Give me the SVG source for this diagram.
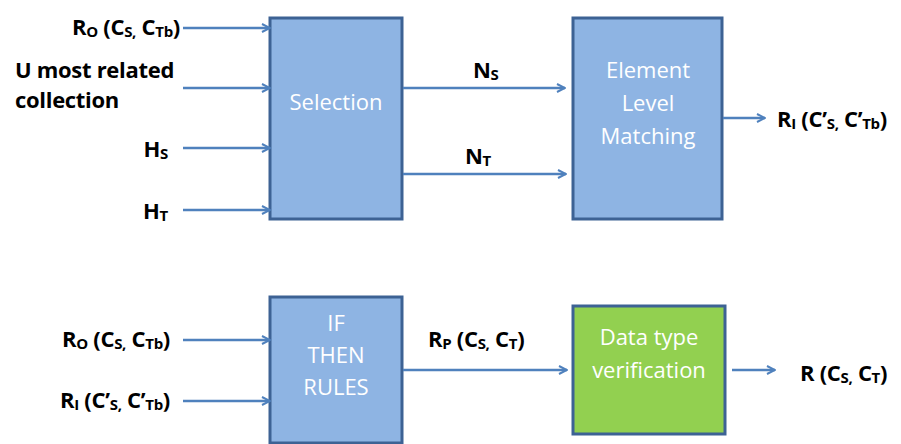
<svg xmlns="http://www.w3.org/2000/svg" width="901" height="444" viewBox="0 0 901 444">
<defs>
<marker id="arr" viewBox="0 0 10 10" refX="9" refY="5" markerWidth="10" markerHeight="10" markerUnits="userSpaceOnUse" orient="auto">
<polyline points="1,1 9,5 1,9" fill="none" stroke="#4F81BD" stroke-width="2"/>
</marker>
</defs>
<style>
.box{fill:#8EB4E3;stroke:#3D6294;stroke-width:3}
.gbox{fill:#92D050;stroke:#3D6294;stroke-width:3}
.in{font-family:"Open Sans","Liberation Sans",sans-serif;font-size:22px;fill:#ffffff;text-anchor:middle}
.lb{font-family:"Open Sans","Liberation Sans",sans-serif;font-size:22px;font-weight:bold;fill:#000;letter-spacing:-0.3px}
.sub{font-size:15px}
.c{stroke:#4F81BD;stroke-width:2.5;fill:none;marker-end:url(#arr)}
</style>
<rect width="901" height="444" fill="#fff"/>
<g id="selection"><rect class="box" x="270" y="18" width="132" height="201"/><text class="in" x="336" y="110">Selection</text></g>
<g id="element"><rect class="box" x="573" y="18" width="149" height="201"/><text class="in" x="648" y="78">Element</text><text class="in" x="648" y="111">Level</text><text class="in" x="648" y="144">Matching</text></g>
<g id="ifthen"><rect class="box" x="270" y="297" width="132" height="146"/><text class="in" x="336" y="331">IF</text><text class="in" x="336" y="363">THEN</text><text class="in" x="336" y="395">RULES</text></g>
<g id="datatype"><rect class="gbox" x="573" y="306" width="152" height="128"/><text class="in" x="649" y="345">Data type</text><text class="in" x="649" y="378">verification</text></g>
<g id="connectors">
<line class="c" x1="183" y1="28" x2="270" y2="28"/>
<line class="c" x1="183" y1="88" x2="270" y2="88"/>
<line class="c" x1="183" y1="148" x2="270" y2="148"/>
<line class="c" x1="183" y1="210" x2="270" y2="210"/>
<line class="c" x1="403" y1="88" x2="565" y2="88"/>
<line class="c" x1="403" y1="174" x2="566" y2="174"/>
<line class="c" x1="723" y1="118" x2="765" y2="118"/>
<line class="c" x1="183" y1="340" x2="270" y2="340"/>
<line class="c" x1="183" y1="401" x2="270" y2="401"/>
<line class="c" x1="403" y1="370" x2="567" y2="370"/>
<line class="c" x1="732" y1="370" x2="775" y2="370"/>
</g>
<g id="labels">
<text class="lb" x="180" y="35" text-anchor="end">R<tspan class="sub" dy="2">O</tspan><tspan dy="-2"> (C</tspan><tspan class="sub" dy="2">S,</tspan><tspan dy="-2"> C</tspan><tspan class="sub" dy="2">Tb</tspan><tspan dy="-2">)</tspan></text>
<text class="lb" x="15" y="78">U most related</text>
<text class="lb" x="15" y="108">collection</text>
<text class="lb" x="168" y="157" text-anchor="end">H<tspan class="sub" dy="2">S</tspan></text>
<text class="lb" x="168" y="219" text-anchor="end">H<tspan class="sub" dy="2">T</tspan></text>
<text class="lb" x="473" y="78">N<tspan class="sub" dy="2">S</tspan></text>
<text class="lb" x="465" y="164">N<tspan class="sub" dy="2">T</tspan></text>
<text class="lb" x="777" y="127">R<tspan class="sub" dy="2">I</tspan><tspan dy="-2"> (C’</tspan><tspan class="sub" dy="2">S,</tspan><tspan dy="-2"> C’</tspan><tspan class="sub" dy="2">Tb</tspan><tspan dy="-2">)</tspan></text>
<text class="lb" x="170" y="347" text-anchor="end">R<tspan class="sub" dy="2">O</tspan><tspan dy="-2"> (C</tspan><tspan class="sub" dy="2">S,</tspan><tspan dy="-2"> C</tspan><tspan class="sub" dy="2">Tb</tspan><tspan dy="-2">)</tspan></text>
<text class="lb" x="170" y="408" text-anchor="end">R<tspan class="sub" dy="2">I</tspan><tspan dy="-2"> (C’</tspan><tspan class="sub" dy="2">S,</tspan><tspan dy="-2"> C’</tspan><tspan class="sub" dy="2">Tb</tspan><tspan dy="-2">)</tspan></text>
<text class="lb" x="428" y="347">R<tspan class="sub" dy="2">P</tspan><tspan dy="-2"> (C</tspan><tspan class="sub" dy="2">S,</tspan><tspan dy="-2"> C</tspan><tspan class="sub" dy="2">T</tspan><tspan dy="-2">)</tspan></text>
<text class="lb" x="800" y="381">R (C<tspan class="sub" dy="2">S,</tspan><tspan dy="-2"> C</tspan><tspan class="sub" dy="2">T</tspan><tspan dy="-2">)</tspan></text>
</g>
</svg>
